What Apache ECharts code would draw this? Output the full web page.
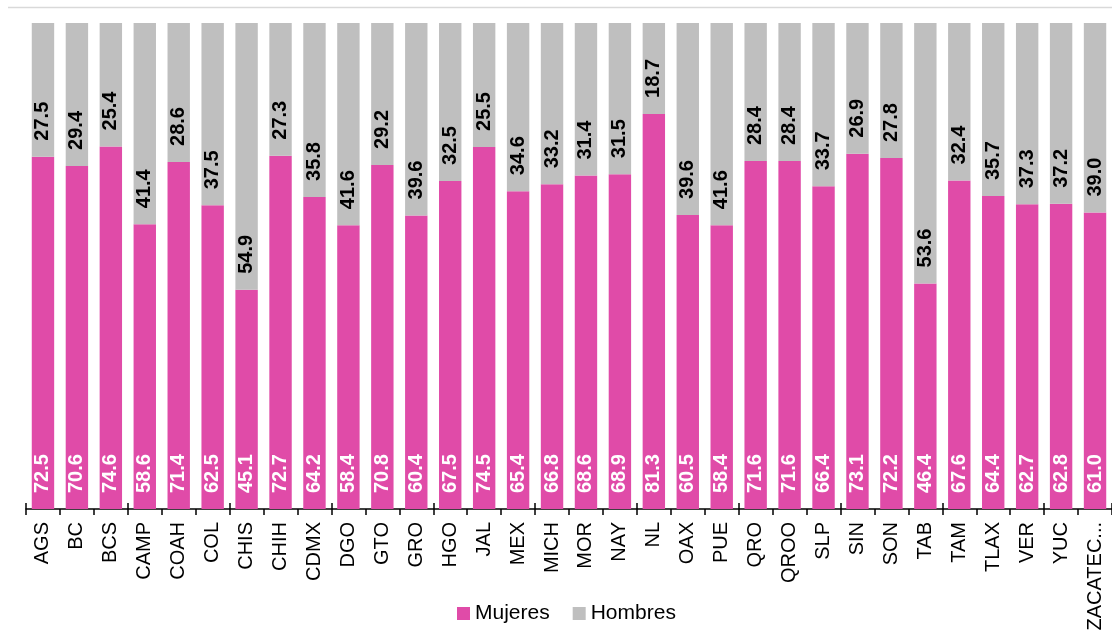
<!DOCTYPE html>
<html><head><meta charset="utf-8">
<script src="https://cdn.jsdelivr.net/npm/echarts@6/dist/echarts.min.js"></script>
<style>html,body{margin:0;padding:0;background:#fff}#c{width:1112px;height:640px}</style>
</head><body><div id="c"></div>
<script>
const categories = ['AGS','BC','BCS','CAMP','COAH','COL','CHIS','CHIH','CDMX','DGO','GTO','GRO','HGO','JAL','MEX','MICH','MOR','NAY','NL','OAX','PUE','QRO','QROO','SLP','SIN','SON','TAB','TAM','TLAX','VER','YUC','ZACATECAS'];
const mujeres = [72.5,70.6,74.6,58.6,71.4,62.5,45.1,72.7,64.2,58.4,70.8,60.4,67.5,74.5,65.4,66.8,68.6,68.9,81.3,60.5,58.4,71.6,71.6,66.4,73.1,72.2,46.4,67.6,64.4,62.7,62.8,61.0];
const hombres = [27.5,29.4,25.4,41.4,28.6,37.5,54.9,27.3,35.8,41.6,29.2,39.6,32.5,25.5,34.6,33.2,31.4,31.5,18.7,39.6,41.6,28.4,28.4,33.7,26.9,27.8,53.6,32.4,35.7,37.3,37.2,39.0];

const font = 'Liberation Sans, Arial, sans-serif';
const chart = echarts.init(document.getElementById('c'));
function lbl(color){
  return {show:true, position:'insideBottom', rotate:90, align:'left', verticalAlign:'middle', distance:16,
    color:color, fontWeight:'bold', fontSize:20, fontFamily:font,
    formatter:p=>Number(p.value).toFixed(1)};
}
chart.setOption({
  animation:false,
  grid:{left:26, top:23, width:1087, bottom:131, containLabel:false},
  legend:{top:598, left:452, itemWidth:13, itemHeight:13, itemGap:23,
    textStyle:{fontSize:21, fontFamily:font, color:'#000'}, icon:'rect',
    data:['Mujeres','Hombres']},
  xAxis:[{type:'category', data:categories, boundaryGap:true,
    axisLine:{lineStyle:{color:'#000', width:1.5}},
    axisTick:{show:true, length:6, alignWithLabel:false, lineStyle:{color:'#000', width:1.5}},
    axisLabel:{rotate:90, fontSize:20, fontFamily:font, color:'#000', margin:13, interval:0,
      width:112, overflow:'truncate', ellipsis:'...'}},
   {type:'category', data:categories, position:'bottom', boundaryGap:true,
    axisLine:{show:false},
    axisTick:{show:true, inside:true, length:6, lineStyle:{color:'#000', width:1.5}},
    axisLabel:{show:false}}],
  yAxis:{type:'value', min:0, max:100, show:false, splitLine:{show:false}},
  graphic:[{type:'line', shape:{x1:8,y1:7.5,x2:1112,y2:7.5}, style:{stroke:'#d9d9d9', lineWidth:1.5}}],
  series:[
    {name:'Mujeres', type:'bar', stack:'t', data:mujeres, barWidth:'66%', itemStyle:{color:'#E04BA8'}, label:lbl('#fff')},
    {name:'Hombres', type:'bar', stack:'t', data:hombres, barWidth:'66%', itemStyle:{color:'#BFBFBF'}, label:lbl('#000')}
  ]
});
</script></body></html>
